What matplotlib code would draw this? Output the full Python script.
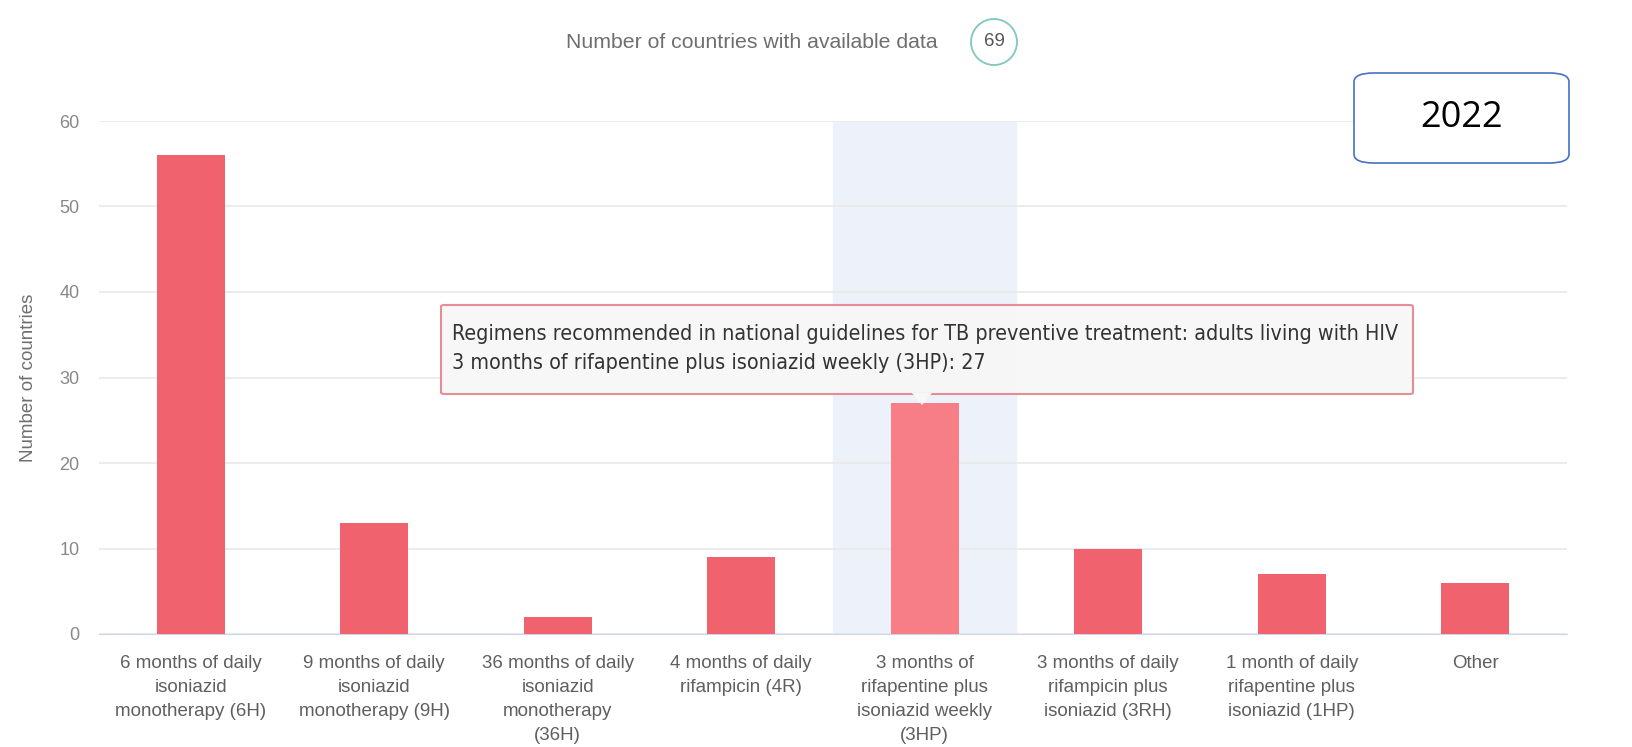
import matplotlib.pyplot as plt
from matplotlib.patches import FancyBboxPatch, Circle, Polygon

# data
categories = [
    '6 months of daily\nisoniazid\nmonotherapy (6H)',
    '9 months of daily\nisoniazid\nmonotherapy (9H)',
    '36 months of daily\nisoniazid\nmonotherapy\n(36H)',
    '4 months of daily\nrifampicin (4R)',
    '3 months of\nrifapentine plus\nisoniazid weekly\n(3HP)',
    '3 months of daily\nrifampicin plus\nisoniazid (3RH)',
    '1 month of daily\nrifapentine plus\nisoniazid (1HP)',
    'Other',
]
counts = [56, 13, 2, 9, 27, 10, 7, 6]
highlight = 4
n_countries = 69
year = '2022'
tooltip_title = 'Regimens recommended in national guidelines for TB preventive treatment: adults living with HIV'
tooltip_value = '3 months of rifapentine plus isoniazid weekly (3HP): 27'

W, H = 1633, 747
fig = plt.figure(figsize=(W / 100, H / 100), dpi=100)
ax = fig.add_axes([99 / W, 1 - 634 / H, (1567 - 99) / W, (634 - 121) / H])

colors = ['#f77d87' if i == highlight else '#f0636e' for i in range(len(counts))]
ax.axvspan(highlight - 0.5, highlight + 0.5, color='#edf1f9', zorder=0)
ax.bar(range(len(counts)), counts, width=0.37, color=colors, zorder=3)

ax.set_xlim(-0.5, len(counts) - 0.5)
ax.set_ylim(0, 60)
ax.set_yticks(range(0, 61, 10))
ax.grid(axis='y', color='#e9e9e9', linewidth=1.2, zorder=1)
ax.set_axisbelow(True)
for s in ['top', 'right', 'left']:
    ax.spines[s].set_visible(False)
ax.spines['bottom'].set_color('#ccd6eb')
ax.tick_params(axis='y', length=0, labelcolor='#888888', labelsize=13, pad=14)
ax.tick_params(axis='x', length=0, labelcolor='#5f5f5f', labelsize=13.5, pad=15)
ax.set_xticks(range(len(categories)))
ax.set_xticklabels(categories, linespacing=1.55, fontfamily='Liberation Sans')
for t in ax.get_yticklabels():
    t.set_fontfamily('Liberation Sans')
ax.set_ylabel('Number of countries', color='#6f6f6f', fontsize=13.5,
              fontfamily='Liberation Sans')
ax.yaxis.set_label_coords(-62 / (1567 - 99), 0.5)

# caption
fig.text(752 / W, 1 - 42 / H, 'Number of countries with available data', ha='center', va='center',
         fontsize=15.3, color='#6f6f6f', fontfamily='Liberation Sans')
fig.add_artist(Circle((9.94, (H - 42) / 100), 0.23, transform=fig.dpi_scale_trans,
                      fill=False, edgecolor='#7fc8c0', linewidth=1.3))
fig.text(994 / W, 1 - 42 / H, str(n_countries), ha='center', va='center',
         fontsize=13.5, color='#555555', fontfamily='Liberation Sans')

# year box
fig.add_artist(FancyBboxPatch((1354 / W, 1 - 163 / H), 215 / W, 90 / H,
                              boxstyle='round,pad=0,rounding_size=0.012',
                              transform=fig.transFigure, facecolor='white',
                              edgecolor='#4472c4', linewidth=1.2))
fig.text(1462 / W, 1 - 118 / H, year, ha='center', va='center', fontsize=26,
         color='black', fontfamily='Open Sans')

# tooltip
bx0, by0, bx1, by1 = 441, 305, 1413, 394
fig.add_artist(FancyBboxPatch((bx0 / W, 1 - by1 / H), (bx1 - bx0) / W, (by1 - by0) / H,
                              boxstyle='round,pad=0,rounding_size=0.002',
                              transform=fig.transFigure, facecolor='#f7f7f7',
                              edgecolor='#e48892', linewidth=1.5, alpha=0.95, zorder=5))
px = 922
fig.add_artist(Polygon([((px - 10) / W, 1 - (by1 - 1) / H), ((px + 10) / W, 1 - (by1 - 1) / H),
                        (px / W, 1 - (by1 + 11) / H)], closed=True,
                       transform=fig.transFigure, facecolor='#f7f7f7',
                       edgecolor='none', zorder=6))
for txt, yy in [(tooltip_title, 334), (tooltip_value, 363)]:
    fig.text(452 / W, 1 - yy / H, txt, ha='left', va='center', fontsize=15.4,
             fontstretch='condensed', color='#333333',
             fontfamily='DejaVu Sans', zorder=7)

fig.savefig('out.png', dpi=100, facecolor='white')
